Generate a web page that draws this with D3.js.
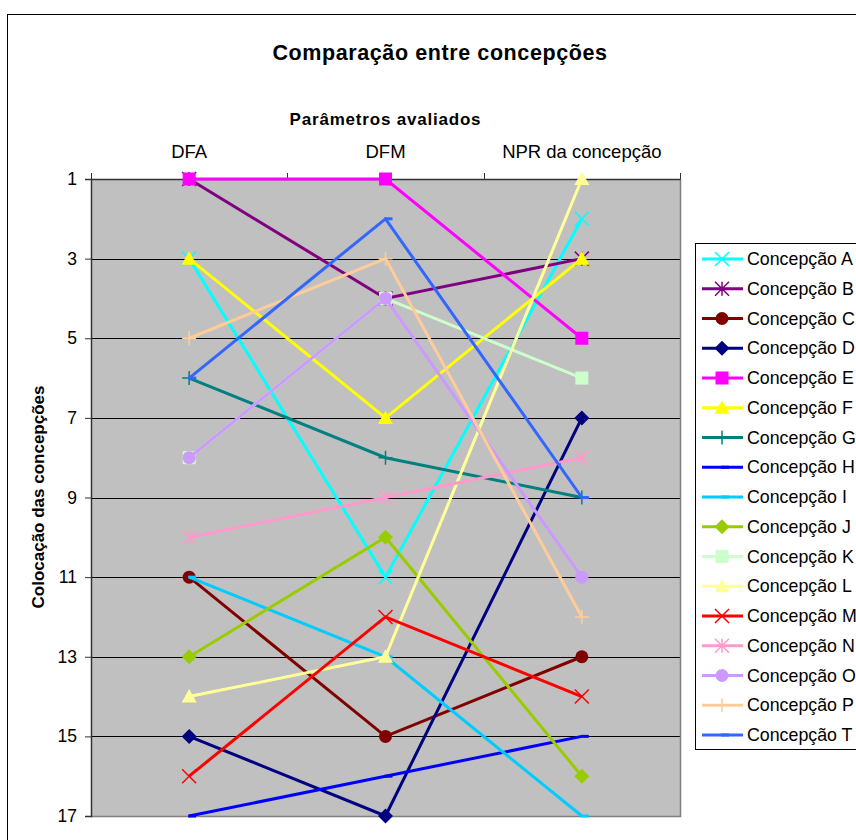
<!DOCTYPE html>
<html>
<head>
<meta charset="utf-8">
<script src="https://cdn.jsdelivr.net/npm/d3@7"></script>
<style>
  body { margin: 0; background: #fff; }
  text { font-family: "Liberation Sans", Arial, sans-serif; fill: #000; }
</style>
</head>
<body>
<script>
// data
var categories = ["DFA", "DFM", "NPR da concepção"];
var seriesNames = ["Concepção A", "Concepção B", "Concepção C", "Concepção D", "Concepção E",
  "Concepção F", "Concepção G", "Concepção H", "Concepção I", "Concepção J", "Concepção K",
  "Concepção L", "Concepção M", "Concepção N", "Concepção O", "Concepção P", "Concepção T"];
var seriesValues = [
  [3, 11, 2],
  [1, 4, 3],
  [11, 15, 13],
  [15, 17, 7],
  [1, 1, 5],
  [3, 7, 3],
  [6, 8, 9],
  [17, 16, 15],
  [11, 13, 17],
  [13, 10, 16],
  [8, 4, 6],
  [14, 13, 1],
  [16, 12, 14],
  [10, 9, 8],
  [8, 4, 11],
  [5, 3, 12],
  [6, 2, 9]
];
var yTicks = [1, 3, 5, 7, 9, 11, 13, 15, 17];
var seriesColors = ["#00FFFF", "#800080", "#800000", "#000080", "#FF00FF", "#FFFF00", "#008080",
  "#0000FF", "#00CCFF", "#99CC00", "#CCFFCC", "#FFFF99", "#FF0000", "#FF99CC", "#CC99FF",
  "#FFCC99", "#3366FF"];
var markerShapes = ["x", "asterisk", "circle", "diamond", "square", "triangle", "plus", "dash",
  "dash", "diamond", "square", "triangle", "x", "asterisk", "circle", "plus", "dash"];

// SVG area
var svgWidth = 856;
var svgHeight = 840;

var plot = { left: 91, right: 680, top: 179, bottom: 816 };

var svg = d3.select("body")
  .append("svg")
  .attr("width", svgWidth)
  .attr("height", svgHeight);

// outer chart border
svg.append("rect")
  .attr("x", 7.5).attr("y", 14.5)
  .attr("width", 900).attr("height", 900)
  .attr("fill", "#fff")
  .attr("stroke", "#000")
  .attr("stroke-width", 1);

// scales
var xScale = d3.scaleBand()
  .domain(categories)
  .range([plot.left, plot.right])
  .padding(0);

var yScale = d3.scaleLinear()
  .domain([1, 17])
  .range([plot.top, plot.bottom]);

function xc(c) { return xScale(c) + xScale.bandwidth() / 2; }

// plot background
svg.append("rect")
  .attr("x", plot.left).attr("y", plot.top)
  .attr("width", plot.right - plot.left)
  .attr("height", plot.bottom - plot.top)
  .attr("fill", "#C0C0C0");

// gridlines
svg.append("g")
  .selectAll("line")
  .data(yTicks)
  .enter().append("line")
  .attr("x1", plot.left).attr("x2", plot.right)
  .attr("y1", d => Math.round(yScale(d)) + 0.5)
  .attr("y2", d => Math.round(yScale(d)) + 0.5)
  .attr("stroke", "#000")
  .attr("stroke-width", 1);

// plot border (right/bottom)
svg.append("path")
  .attr("d", `M${plot.right + 0.5},${plot.top}V${plot.bottom + 0.5}H${plot.left}`)
  .attr("fill", "none")
  .attr("stroke", "#808080")
  .attr("stroke-width", 1.5);

// y axis
var yAxis = d3.axisLeft(yScale).tickValues(yTicks).tickSize(6).tickPadding(8);
var yG = svg.append("g")
  .attr("transform", `translate(${plot.left}, 0)`)
  .call(yAxis);
yG.select(".domain").attr("stroke", "#333").attr("stroke-width", 1.5);
yG.selectAll(".tick line").attr("stroke", "#333");
yG.selectAll("text")
  .style("font-size", "17.5px")
  .attr("fill", "#000");

// x axis on top
var xAxis = d3.axisTop(xScale).tickSize(0).tickPadding(21);
var xG = svg.append("g")
  .attr("transform", `translate(0, ${plot.top})`)
  .call(xAxis);
xG.select(".domain").attr("stroke", "#333").attr("stroke-width", 1.5);
xG.selectAll("text")
  .style("font-size", "18.5px")
  .attr("fill", "#000");

// boundary ticks on the top axis
var edges = categories.map(c => xScale(c)).concat([xScale.range()[1]]);
xG.selectAll(".edge")
  .data(edges)
  .enter().append("line")
  .attr("class", "edge")
  .attr("x1", d => Math.round(d) + 0.5).attr("x2", d => Math.round(d) + 0.5)
  .attr("y1", 0).attr("y2", -6)
  .attr("stroke", "#333");

// titles
svg.append("text")
  .attr("x", 440).attr("y", 60)
  .attr("text-anchor", "middle")
  .style("font-size", "21.5px")
  .style("font-weight", "bold")
  .style("letter-spacing", "0.6px")
  .text("Comparação entre concepções");

svg.append("text")
  .attr("x", (plot.left + plot.right) / 2).attr("y", 125)
  .attr("text-anchor", "middle")
  .style("font-size", "17px")
  .style("font-weight", "bold")
  .style("letter-spacing", "0.8px")
  .text("Parâmetros avaliados");

svg.append("text")
  .attr("transform", "translate(44, 497) rotate(-90)")
  .attr("text-anchor", "middle")
  .style("font-size", "17px")
  .style("font-weight", "bold")
  .text("Colocação das concepções");

// marker drawing
function drawMarker(g, shape, color, x, y) {
  var s = 7;
  if (shape === "circle") {
    g.append("circle").attr("cx", x).attr("cy", y).attr("r", 6.5).attr("fill", color);
  } else if (shape === "square") {
    g.append("rect").attr("x", x - 6.5).attr("y", y - 6.5).attr("width", 13).attr("height", 13).attr("fill", color);
  } else if (shape === "diamond") {
    g.append("path").attr("d", `M${x},${y - 7.5}L${x + 7.5},${y}L${x},${y + 7.5}L${x - 7.5},${y}Z`).attr("fill", color);
  } else if (shape === "triangle") {
    g.append("path").attr("d", `M${x},${y - 7.5}L${x + 7.5},${y + 6}L${x - 7.5},${y + 6}Z`).attr("fill", color);
  } else if (shape === "x") {
    g.append("path").attr("d", `M${x - s},${y - s}L${x + s},${y + s}M${x - s},${y + s}L${x + s},${y - s}`)
      .attr("stroke", color).attr("stroke-width", 1.5).attr("fill", "none");
  } else if (shape === "asterisk") {
    g.append("path").attr("d", `M${x - s},${y - s}L${x + s},${y + s}M${x - s},${y + s}L${x + s},${y - s}M${x},${y - s}L${x},${y + s}`)
      .attr("stroke", color).attr("stroke-width", 1.5).attr("fill", "none");
  } else if (shape === "plus") {
    g.append("path").attr("d", `M${x - s},${y}L${x + s},${y}M${x},${y - s}L${x},${y + s}`)
      .attr("stroke", color).attr("stroke-width", 1.5).attr("fill", "none");
  } else if (shape === "dash") {
    g.append("path").attr("d", `M${x - 1},${y}L${x + 7},${y}`)
      .attr("stroke", color).attr("stroke-width", 3).attr("fill", "none");
  }
}

// series lines and markers
var line = d3.line()
  .x((d, i) => xc(categories[i]))
  .y(d => yScale(d));

var seriesG = svg.append("g");
seriesValues.forEach(function(vals, k) {
  var g = seriesG.append("g");
  g.append("path")
    .datum(vals)
    .attr("d", line)
    .attr("fill", "none")
    .attr("stroke", seriesColors[k])
    .attr("stroke-width", 3);
  vals.forEach(function(v, i) {
    drawMarker(g, markerShapes[k], seriesColors[k], xc(categories[i]), yScale(v));
  });
});

// legend
var legend = svg.append("g");
legend.append("rect")
  .attr("x", 695.5).attr("y", 243.5)
  .attr("width", 200).attr("height", 506)
  .attr("fill", "#fff")
  .attr("stroke", "#000");

var legendY = d3.scaleLinear().domain([0, 16]).range([259, 735]);
seriesNames.forEach(function(name, k) {
  var y = legendY(k);
  legend.append("line")
    .attr("x1", 702).attr("x2", 743)
    .attr("y1", y).attr("y2", y)
    .attr("stroke", seriesColors[k])
    .attr("stroke-width", 3);
  drawMarker(legend, markerShapes[k], seriesColors[k], 722, y);
  legend.append("text")
    .attr("x", 747).attr("y", y + 6)
    .style("font-size", "17.8px")
    .text(name);
});
</script>
</body>
</html>
